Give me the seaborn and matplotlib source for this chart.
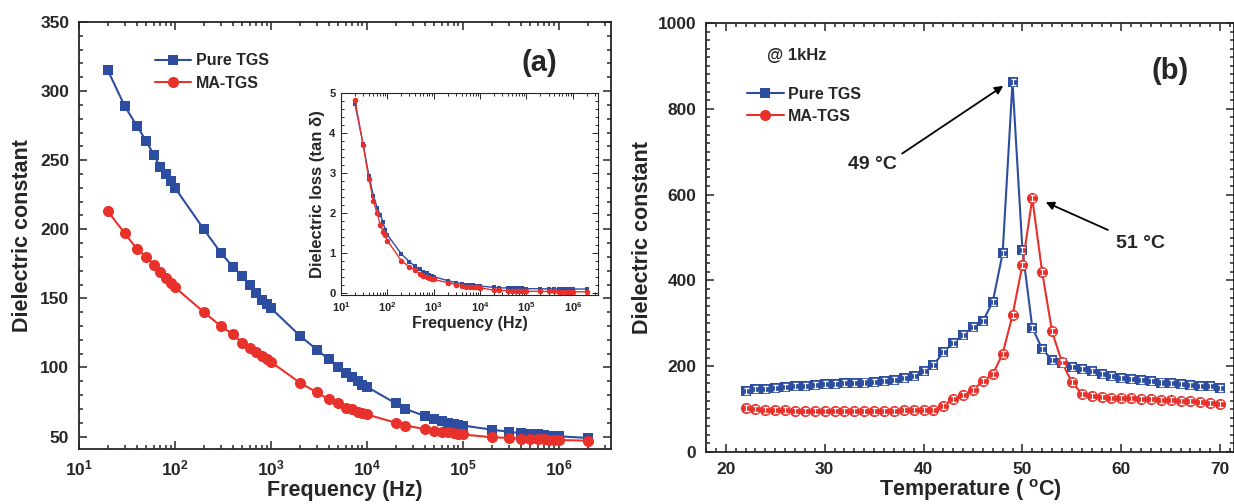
import numpy as np
import pandas as pd
import matplotlib
matplotlib.use("Agg")
import matplotlib.pyplot as plt
from matplotlib.ticker import MultipleLocator, LogLocator, NullFormatter
import seaborn as sns

# ---------------- data ----------------
freq = [20, 30, 40, 50, 60, 70, 80, 90, 100, 200, 300, 400, 500, 600, 700, 800, 900,
        1e3, 2e3, 3e3, 4e3, 5e3, 6e3, 7e3, 8e3, 9e3, 1e4, 2e4, 2.5e4, 4e4, 5e4, 6e4,
        7e4, 8e4, 9e4, 1e5, 2e5, 3e5, 4e5, 5e5, 6e5, 7e5, 8e5, 9e5, 1e6, 2e6]
eps_pure = [315, 289, 275, 264, 254, 245, 240, 235, 230, 200, 183, 173, 166, 160, 154,
            149, 146, 143, 123, 113, 106, 100, 96, 93, 90, 87, 86, 74, 70, 65, 63, 61,
            60, 59, 58.5, 58, 55, 53.5, 52.5, 52, 51.5, 51, 50.7, 50.4, 50.2, 49]
eps_ma = [213, 197, 186, 180, 174, 169, 165, 161, 158, 140, 130, 124, 118, 114, 111,
          108, 106, 104, 89, 82, 77, 74, 71, 70, 68, 67, 66, 60, 58, 55.5, 54, 53.5,
          53, 52.5, 52, 51.5, 49.5, 49, 48.5, 48.3, 48, 47.9, 47.8, 47.6, 47.5, 47]
tan_pure = [4.72, 3.72, 2.93, 2.42, 2.13, 1.95, 1.78, 1.58, 1.45, 0.97, 0.77, 0.66,
            0.58, 0.52, 0.48, 0.45, 0.42, 0.40, 0.30, 0.25, 0.22, 0.20, 0.19, 0.18,
            0.175, 0.17, 0.165, 0.13, 0.12, 0.115, 0.11, 0.108, 0.105, 0.103, 0.10,
            0.10, 0.095, 0.093, 0.092, 0.091, 0.09, 0.09, 0.09, 0.09, 0.09, 0.09]
tan_ma = [4.83, 3.70, 2.85, 2.30, 2.00, 1.70, 1.53, 1.45, 1.30, 0.80, 0.64, 0.57,
          0.47, 0.42, 0.38, 0.36, 0.34, 0.33, 0.25, 0.20, 0.17, 0.15, 0.14, 0.135,
          0.13, 0.13, 0.12, 0.06, 0.055, 0.05, 0.045, 0.043, 0.04, 0.04, 0.038,
          0.035, 0.03, 0.03, 0.028, 0.027, 0.025, 0.025, 0.024, 0.023, 0.022, 0.02]

temp = list(range(22, 71))
epsT_pure = [143, 146, 148, 150, 152, 154, 155, 156, 158, 159, 160, 161, 162, 163,
             166, 168, 172, 178, 188, 203, 232, 255, 272, 292, 305, 350, 463, 862,
             472, 290, 240, 215, 207, 198, 193, 188, 182, 177, 173, 170, 167, 165,
             162, 160, 158, 156, 155, 153, 150]
epsT_ma = [103, 101, 99, 98, 97, 96, 95, 95, 95, 95, 95, 95, 95, 96, 96, 96, 97, 97,
           98, 99, 108, 124, 132, 145, 165, 181, 229, 319, 436, 591, 419, 281, 209,
           163, 136, 130, 128, 127, 126, 125, 124, 123, 122, 121, 120, 118, 116,
           114, 111]

series_names = ["Pure TGS", "MA-TGS"]
BLUE = "#2c4da0"
RED = "#e8312b"

# ---------------- style ----------------
sns.set_theme(style="ticks")
plt.rcParams["font.family"] = ["Liberation Sans", "DejaVu Sans"]
plt.rcParams["font.weight"] = "bold"
plt.rcParams["axes.labelweight"] = "bold"
plt.rcParams["axes.linewidth"] = 1.3
plt.rcParams["xtick.direction"] = "in"
plt.rcParams["ytick.direction"] = "in"

W, H = 1234, 504
fig = plt.figure(figsize=(W / 100, H / 100), dpi=100)


def px_axes(l, t, r, b):
    return fig.add_axes([l / W, 1 - b / H, (r - l) / W, (b - t) / H])


def style_ticks(ax, major_len=6, minor_len=3, lsize=12, pad=6):
    ax.tick_params(which="both", direction="in", top=True, right=True,
                   width=1.1, labelsize=lsize, pad=pad)
    ax.tick_params(which="major", length=major_len)
    ax.tick_params(which="minor", length=minor_len)
    for lab in ax.get_xticklabels() + ax.get_yticklabels():
        lab.set_fontweight("bold")


# ---------------- panel (a) ----------------
axA = px_axes(79, 22, 611, 449)
dfA = pd.DataFrame({"f": freq * 2, "eps": eps_pure + eps_ma,
                    "s": [series_names[0]] * len(freq) + [series_names[1]] * len(freq)})
sns.lineplot(data=dfA[dfA.s == "Pure TGS"], x="f", y="eps", ax=axA, color=BLUE,
             marker="s", markersize=7, markeredgewidth=0, lw=1.5, label="Pure TGS")
sns.lineplot(data=dfA[dfA.s == "MA-TGS"], x="f", y="eps", ax=axA, color=RED,
             marker="o", markersize=8, markeredgewidth=0, lw=1.5, label="MA-TGS")
axA.set_xscale("log")
axA.set_xlim(10, 3.5e6)
axA.set_ylim(41, 350)
axA.yaxis.set_major_locator(MultipleLocator(50))
axA.yaxis.set_minor_locator(MultipleLocator(10))
axA.xaxis.set_major_locator(LogLocator(base=10, numticks=10))
axA.xaxis.set_minor_locator(LogLocator(base=10, subs=np.arange(2, 10), numticks=20))
axA.xaxis.set_minor_formatter(NullFormatter())
style_ticks(axA, lsize=12.5, pad=7)
axA.set_xlabel("Frequency (Hz)", fontsize=15.5, fontweight="bold", labelpad=1)
axA.set_ylabel("Dielectric constant", fontsize=15.5, fontweight="bold", labelpad=5)
axA.legend(loc="upper left", bbox_to_anchor=(0.115, 0.96), frameon=False,
           handlelength=2.3, handletextpad=0.3, labelspacing=0.45,
           prop={"weight": "bold", "size": 11.5})
axA.text(0.866, 0.905, "(a)", transform=axA.transAxes, fontsize=21,
         fontweight="bold", ha="center", va="center")

# inset
axI = px_axes(341, 93, 598, 295)
sns.lineplot(x=freq, y=tan_pure, ax=axI, color=BLUE, marker="s", markersize=3.5,
             markeredgewidth=0, lw=1.0)
sns.lineplot(x=freq, y=tan_ma, ax=axI, color=RED, marker="o", markersize=4,
             markeredgewidth=0, lw=1.0)
axI.set_xscale("log")
axI.set_xlim(10, 3.5e6)
axI.set_ylim(-0.06, 5)
axI.yaxis.set_major_locator(MultipleLocator(1))
axI.yaxis.set_minor_locator(MultipleLocator(0.2))
axI.xaxis.set_major_locator(LogLocator(base=10, numticks=10))
axI.xaxis.set_minor_locator(LogLocator(base=10, subs=np.arange(2, 10), numticks=20))
axI.xaxis.set_minor_formatter(NullFormatter())
for s in axI.spines.values():
    s.set_linewidth(0.8)
style_ticks(axI, major_len=4, minor_len=2, lsize=8, pad=4)
axI.tick_params(which="both", width=0.7)
axI.set_xlabel("Frequency (Hz)", fontsize=11.5, fontweight="bold", labelpad=1)
axI.set_ylabel("Dielectric loss (tan δ)", fontsize=12, fontweight="bold", labelpad=3)

# ---------------- panel (b) ----------------
axB = px_axes(706, 23, 1234, 452)
sns.lineplot(x=temp, y=epsT_pure, ax=axB, color=BLUE, marker="s", markersize=7,
             markeredgewidth=0, lw=1.5, label="Pure TGS", zorder=3)
sns.lineplot(x=temp, y=epsT_ma, ax=axB, color=RED, marker="o", markersize=8,
             markeredgewidth=0, lw=1.5, label="MA-TGS", zorder=3)
axB.errorbar(temp, epsT_pure, yerr=7, fmt="none", ecolor="white", elinewidth=0.8,
             capsize=1.8, zorder=6)
axB.errorbar(temp, epsT_ma, yerr=7, fmt="none", ecolor="white", elinewidth=0.8,
             capsize=1.8, zorder=6)
axB.set_xlim(18, 71.4)
axB.set_ylim(0, 1000)
axB.xaxis.set_major_locator(MultipleLocator(10))
axB.xaxis.set_minor_locator(MultipleLocator(1))
axB.yaxis.set_major_locator(MultipleLocator(200))
axB.yaxis.set_minor_locator(MultipleLocator(20))
style_ticks(axB, lsize=12.5, pad=7)
axB.set_xlabel("Temperature ( $^\\mathregular{o}$C)", fontsize=15.5, fontweight="bold",
               labelpad=0)
axB.set_ylabel("Dielectric constant", fontsize=15.5, fontweight="bold", labelpad=3)
axB.legend(loc="upper left", bbox_to_anchor=(0.05, 0.885), frameon=False,
           handlelength=2.3, handletextpad=0.3, labelspacing=0.45,
           prop={"weight": "bold", "size": 11.5})
axB.text(27.2, 925, "@ 1kHz", fontsize=12, fontweight="bold", ha="center",
         va="center")
axB.text(64.9, 888, "(b)", fontsize=21, fontweight="bold", ha="center", va="center")
axB.annotate("", xy=(48.3, 857), xytext=(37.6, 692),
             arrowprops=dict(arrowstyle="-|>", color="black", lw=1.3,
                             mutation_scale=12))
axB.text(34.8, 670, "49 °C", fontsize=14, fontweight="bold", ha="center",
         va="center")
axB.annotate("", xy=(52.1, 585), xytext=(58.9, 515),
             arrowprops=dict(arrowstyle="-|>", color="black", lw=1.3,
                             mutation_scale=12))
axB.text(61.9, 486, "51 °C", fontsize=14, fontweight="bold", ha="center",
         va="center")

fig.savefig("out.png", dpi=100)
